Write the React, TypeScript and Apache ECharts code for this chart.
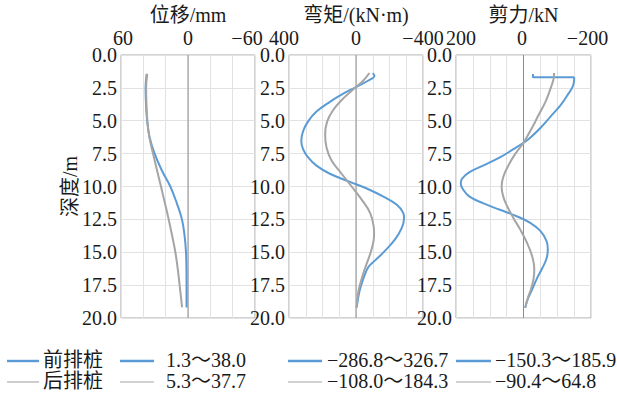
import React, { useEffect, useRef } from "react";
import * as echarts from "echarts";

// ---------- data: [value, depth(m)] ----------
const depthTicks = [0, 2.5, 5, 7.5, 10, 12.5, 15, 17.5, 20];

const dispFront: [number, number][] = [
  [37.0, 1.44], [38.0, 2.5], [37.6, 3.75], [36.6, 5], [34.4, 6.25], [29.9, 7.5],
  [23.3, 8.8], [15.8, 10], [9.9, 11.3], [5.4, 12.5], [3.0, 13.8], [1.8, 15],
  [1.4, 16.25], [1.3, 17.5], [1.3, 19.2],
];
const dispBack: [number, number][] = [
  [36.5, 1.44], [37.5, 2.5], [37.2, 3.75], [36.4, 5], [34.6, 6.25], [31.3, 7.5],
  [27.8, 8.75], [24.2, 10], [20.7, 11.25], [17.3, 12.5], [14.2, 13.75], [11.3, 15],
  [9.2, 16.25], [7.5, 17.5], [5.3, 19.2],
];

const momentFront: [number, number][] = [
  [-100, 1.39], [-110, 1.57], [-74, 1.94], [0, 2.44], [76, 2.94], [156, 3.56],
  [236, 4.3], [286, 5.05], [316, 5.8], [326.7, 6.54], [316, 7.16], [286, 7.79],
  [236, 8.41], [156, 9.03], [36, 9.65], [-64, 10.15], [-164, 10.77], [-244, 11.39],
  [-282, 12.01], [-286.8, 12.39], [-274, 13.13], [-234, 14.0], [-174, 14.88],
  [-114, 15.62], [-74, 16.12], [-44, 17.0], [-20, 18.0], [-4, 19.2],
];
const momentBack: [number, number][] = [
  [-80, 1.37], [-44, 1.94], [0, 2.44], [76, 3.3], [136, 4.18], [172, 5.05],
  [184.3, 6.04], [176, 7.04], [146, 8.03], [86, 9.03], [26, 10.0], [-34, 11.0],
  [-84, 12.0], [-105, 13.0], [-108, 13.6], [-104, 14.2], [-88, 15.0], [-60, 16.0],
  [-34, 17.0], [-14, 18.0], [-4, 19.2],
];

const shearFrontTop: [number, number][] = [
  [-28, 1.44], [-28, 1.69], [-150.3, 1.69],
];
const shearFront: [number, number][] = [
  [-150.3, 1.69], [-150, 1.94], [-145, 2.44], [-130, 3.06], [-110, 3.81], [-80, 4.68],
  [-50, 5.55], [-20, 6.29], [0, 6.67], [30, 7.16], [70, 7.79], [120, 8.41],
  [160, 8.91], [182, 9.4], [185.9, 9.78], [178, 10.27], [160, 10.77], [120, 11.27],
  [70, 11.77], [20, 12.26], [-20, 12.76], [-50, 13.38], [-68, 14.13], [-72, 14.75],
  [-68, 15.5], [-55, 16.24], [-40, 16.99], [-25, 17.86], [-12, 18.6], [-5, 19.23],
];
const shearBack: [number, number][] = [
  [-90.4, 1.37], [-90.4, 1.57], [-88, 1.94], [-80, 2.56], [-65, 3.56], [-45, 4.55],
  [-25, 5.55], [0, 6.67], [25, 7.54], [45, 8.41], [60, 9.28], [64.8, 10.02],
  [60, 10.77], [48, 11.52], [30, 12.39], [10, 13.26], [-10, 14.26], [-25, 15.25],
  [-32, 16.24], [-30, 16.99], [-23, 17.74], [-13, 18.48], [-5, 19.23],
];

const zeroLine: [number, number][] = [[0, 0], [0, 20]];

const panelTitles = ["位移/mm", "弯矩/(kN·m)", "剪力/kN"];
const panelMax = [60, 400, 200];
const panelInterval = [20, 100, 50];
const depthTitle = "深度/m";

const legendNames = ["前排桩", "后排桩"];
const dispRanges = ["1.3～38.0", "5.3～37.7"];
const momentRanges = ["−286.8～326.7", "−108.0～184.3"];
const shearRanges = ["−150.3～185.9", "−90.4～64.8"];

// ---------- styles ----------
const BLUE = "#5b9bd5";
const GRAY = "#a5a5a5";
const TEXT = "#1a1a1a";
const FONT = "Liberation Serif, Times New Roman, Noto Sans CJK SC, serif";
const FS = 20;

const grids = [
  { left: 121, width: 134 },
  { left: 289, width: 134 },
  { left: 456, width: 135 },
];
// horizontal shifts of [max label (left end), zero label, min label (right end)]
const labelShift = [
  [2, 0, -8],
  [-5, 0, 0],
  [5, -1.5, -3.5],
];

function pad(s: number) {
  return s >= 0 ? [0, 0, 0, 2 * s] : [0, -2 * s, 0, 0];
}

export default function App() {
  const ref = useRef<HTMLDivElement>(null);
  useEffect(() => {
    if (!ref.current) return;
    const chart = echarts.init(ref.current, undefined, { renderer: "svg" });

    const xAxes = panelTitles.map((title, i) => {
      const M = panelMax[i];
      const sh = labelShift[i];
      const richBase = { fontSize: FS, fontFamily: FONT, color: TEXT };
      return {
        type: "value",
        gridIndex: i,
        position: "top",
        inverse: true,
        min: -M,
        max: M,
        interval: panelInterval[i],
        axisLine: { show: false },
        axisTick: { show: false },
        splitLine: { show: true, lineStyle: { color: "#e2e2e2", width: 1 } },
        axisLabel: {
          margin: 7.5,
          fontSize: FS,
          fontFamily: FONT,
          color: TEXT,
          formatter: (v: number) => {
            if (v === M) return `{l|${M}}`;
            if (v === 0) return `{z|0}`;
            if (v === -M) return `{r|−${M}}`;
            return "";
          },
          rich: {
            l: { ...richBase, padding: pad(sh[0]) },
            z: { ...richBase, padding: pad(sh[1]) },
            r: { ...richBase, padding: pad(sh[2]) },
          },
        },
        name: title,
        nameLocation: "middle",
        nameGap: 30,
        nameMoveOverlap: false,
        nameTextStyle: { fontSize: FS, fontFamily: FONT, color: TEXT },
      };
    });

    const yAxes = panelTitles.map((_, i) => ({
      type: "value",
      gridIndex: i,
      inverse: true,
      min: depthTicks[0],
      max: depthTicks[depthTicks.length - 1],
      interval: depthTicks[1] - depthTicks[0],
      axisLine: { show: false },
      axisTick: { show: false },
      splitLine: { show: true, lineStyle: { color: "#e2e2e2", width: 1 } },
      axisLabel: {
        margin: 4,
        fontSize: FS,
        fontFamily: FONT,
        color: TEXT,
        formatter: (v: number) => v.toFixed(1),
      },
      name: i === 0 ? depthTitle : "",
      nameLocation: "middle",
      nameGap: 41,
      nameMoveOverlap: false,
      nameTextStyle: { fontSize: FS, fontFamily: FONT, color: TEXT },
    }));

    const lineSeries = (
      data: [number, number][],
      idx: number,
      color: string,
      smooth: boolean | number,
      z = 3
    ) => ({
      type: "line",
      xAxisIndex: idx,
      yAxisIndex: idx,
      data,
      smooth,
      showSymbol: false,
      symbol: "none",
      z,
      lineStyle: { color, width: 2 },
      itemStyle: { color },
      silent: true,
    });

    const series: any[] = [];
    [0, 1, 2].forEach((i) => {
      series.push({
        type: "line",
        xAxisIndex: i,
        yAxisIndex: i,
        data: zeroLine,
        symbol: "none",
        z: 1,
        lineStyle: { color: "#8c8c8c", width: 1 },
        silent: true,
      });
    });
    series.push(lineSeries(dispFront, 0, BLUE, 0.4));
    series.push(lineSeries(dispBack, 0, GRAY, 0.4));
    series.push(lineSeries(momentFront, 1, BLUE, 0.4));
    series.push(lineSeries(momentBack, 1, GRAY, 0.4));
    series.push(lineSeries(shearFrontTop, 2, BLUE, false));
    series.push(lineSeries(shearFront, 2, BLUE, 0.4));
    series.push(lineSeries(shearBack, 2, GRAY, 0.4));

    // legend built from graphic elements
    const lineX = [[7, 39], [120, 154], [288, 322], [456, 491]];
    const textX = [43, 166, 327, 495];
    const rowY = [360, 381];
    const graphic: any[] = [];
    [0, 1].forEach((r) => {
      const texts = [legendNames[r], dispRanges[r], momentRanges[r], shearRanges[r]];
      const color = r === 0 ? BLUE : GRAY;
      const lw = r === 0 ? 2.4 : 1.1;
      texts.forEach((t, k) => {
        graphic.push({
          type: "line",
          shape: { x1: lineX[k][0], y1: rowY[r] + 1, x2: lineX[k][1], y2: rowY[r] + 1 },
          style: { stroke: color, lineWidth: lw },
          silent: true,
        });
        graphic.push({
          type: "text",
          x: textX[k],
          y: rowY[r],
          style: {
            text: t,
            fontSize: 20,
            fontFamily: FONT,
            fill: TEXT,
            verticalAlign: "middle",
            align: "left",
          },
          silent: true,
        });
      });
    });

    chart.setOption({
      animation: false,
      backgroundColor: "#ffffff",
      grid: grids.map((g) => ({
        left: g.left,
        width: g.width,
        top: 50,
        height: 268,
        show: true,
        borderColor: "#a6a6a6",
        borderWidth: 1,
        backgroundColor: "transparent",
      })),
      xAxis: xAxes,
      yAxis: yAxes,
      series,
      graphic,
    });
    return () => chart.dispose();
  }, []);

  return (
    <div
      ref={ref}
      style={{ position: "fixed", left: 0, top: 0, width: 617, height: 394, background: "#fff" }}
    />
  );
}
